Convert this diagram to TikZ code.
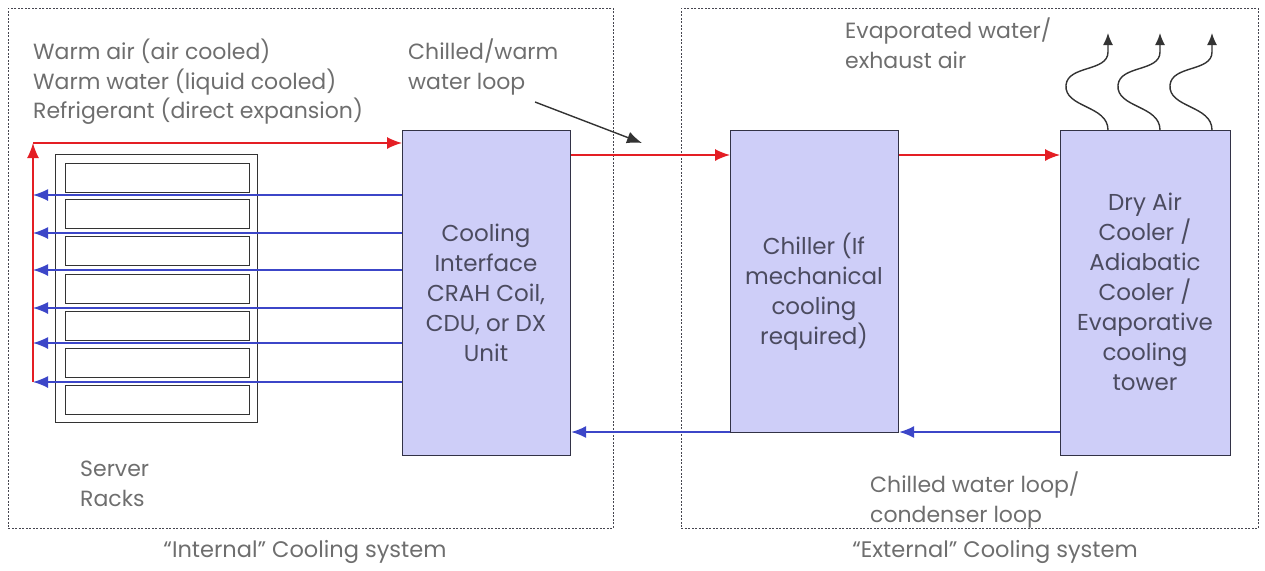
\documentclass[tikz,border=0pt]{standalone}
\usepackage{fontspec}
\setmainfont{Poppins}
\usetikzlibrary{arrows.meta}
\definecolor{txt}{RGB}{110,110,110}
\definecolor{boxtxt}{RGB}{75,75,95}
\definecolor{boxfill}{RGB}{206,206,248}
\definecolor{boxline}{RGB}{50,50,70}
\definecolor{redl}{RGB}{228,30,36}
\definecolor{bluel}{RGB}{60,70,200}
\definecolor{dashc}{RGB}{70,70,80}
\tikzset{
  lbl/.style={font=\fontsize{22}{29.5}\selectfont, text=txt, inner sep=0pt},
  inlbl/.style={font=\fontsize{23}{30}\selectfont, text=boxtxt, inner sep=0pt, align=center},
  unitbox/.style={draw=boxline, fill=boxfill, line width=1.2pt, inner sep=0pt, anchor=north west},
  region/.style={draw=dashc, dashed, dash pattern=on 2pt off 1.5pt, line width=0.9pt, inner sep=0pt, anchor=north west},
  redarr/.style={draw=redl, line width=1.4pt, -{Latex[length=15pt,width=12pt]}},
  bluearr/.style={draw=bluel, line width=1.4pt, -{Latex[length=15pt,width=12pt]}},
  blackarr/.style={draw=black!80, line width=1.4pt, -{Latex[length=15pt,width=12pt]}},
  rack/.style={draw=black!80, line width=1.3pt, inner sep=0pt, anchor=north west},
  slot/.style={draw=black!80, line width=1.3pt, inner sep=0pt, anchor=north west, minimum width=184pt, minimum height=29pt},
}
\begin{document}
\begin{tikzpicture}[x=1pt,y=-1pt]
\useasboundingbox (0,0) rectangle (1265,570);
% regions
\node[region, minimum width=605pt, minimum height=520pt] (intreg) at (8,8) {};
\node[region, minimum width=577pt, minimum height=520pt] (extreg) at (681,8) {};
\node[lbl, font=\fontsize{22.5}{29.5}\selectfont] (intlbl) at (305,552) {“Internal” Cooling system};
\node[lbl, font=\fontsize{22.5}{29.5}\selectfont] (extlbl) at (995,552) {“External” Cooling system};
% rack
\node[rack, minimum width=202pt, minimum height=268pt] (rack) at (55,154) {};
\foreach \i/\y in {1/163,2/199,3/236,4/274,5/311,6/348,7/385}
  \node[slot] (s\i) at (65,\y) {};
\node[lbl, align=left, anchor=north west] (srv) at (80,461) {Server\\Racks};
% main boxes
\node[unitbox, minimum width=168pt, minimum height=325pt] (ci) at (402,130) {};
\node[inlbl] (citext) at (486,293) {Cooling\\Interface\\CRAH Coil,\\CDU, or DX\\Unit};
\node[unitbox, minimum width=168pt, minimum height=302pt] (ch) at (730,130) {};
\node[inlbl] (chtext) at (814,292) {Chiller (If\\mechanical\\cooling\\required)};
\node[unitbox, minimum width=170pt, minimum height=325pt] (dc) at (1060,130) {};
\node[inlbl] (dctext) at (1145,292) {Dry Air\\Cooler /\\Adiabatic\\Cooler /\\Evaporative\\cooling\\tower};
% texts
\node[lbl, align=left, anchor=north west] (warm) at (33,39) {Warm air (air cooled)\\Warm water (liquid cooled)\\Refrigerant (direct expansion)};
\node[lbl, align=left, anchor=north west] (cw) at (408,39) {Chilled/warm\\water loop};
\node[lbl, align=left, anchor=north west] (evap) at (845,18) {Evaporated water/\\exhaust air};
\node[lbl, align=left, anchor=north west] (cond) at (870,472) {Chilled water loop/\\condenser loop};
% coordinates
\coordinate (rb) at (33,382);
\coordinate (rt) at (33,143);
\coordinate (ya) at (0,155);
\coordinate (yb) at (0,432);
\coordinate (lp1) at (535,102);
\coordinate (lp2) at (642,143);
% red loop
\draw[redarr] (rb) -- (rt);
\draw[redarr] (rt) -- (ci.west |- rt);
\foreach \y in {195,233,270,308,343,382}
  \draw[bluearr] (ci.west |- {(0,\y)}) -- (33,\y);
\draw[redarr] (ci.east |- ya) -- (ch.west |- ya);
\draw[redarr] (ch.east |- ya) -- (dc.west |- ya);
\draw[bluearr] (dc.west |- yb) -- (ch.east |- yb);
\draw[bluearr] (ch.west |- yb) -- (ci.east |- yb);
\draw[blackarr] (lp1) -- (lp2);
% exhaust
\foreach \x in {1108,1160,1212}
  \draw[draw=black!80, line width=1.4pt, -{Latex[length=12pt,width=10pt]}]
    (\x,130) .. controls (\x,105) and (\x-44,108) .. (\x-42,85)
    .. controls (\x-40,65) and (\x,72) .. (\x,52) -- (\x,33);
\end{tikzpicture}
\end{document}
